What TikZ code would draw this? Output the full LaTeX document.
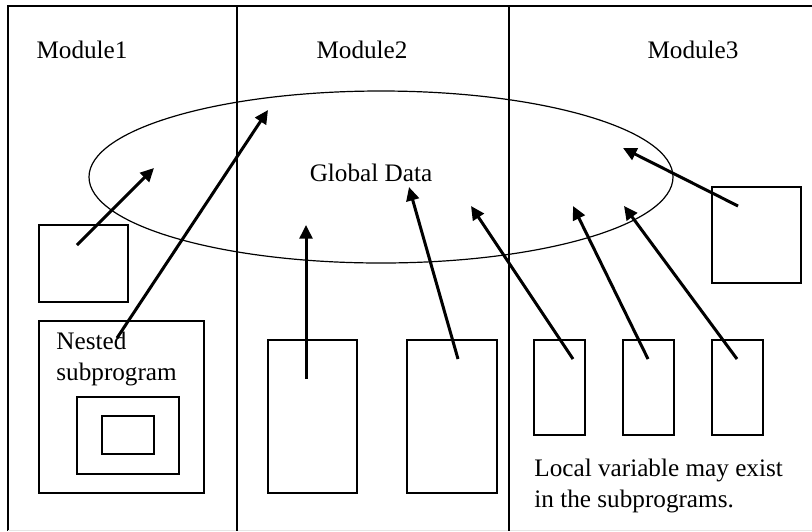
\documentclass[tikz,border=0pt]{standalone}
\usepackage{fontspec}
\setmainfont{Liberation Serif}
\usepackage{tikz}
\usetikzlibrary{shapes.geometric, arrows.meta, positioning, fit}

\tikzset{
  box/.style={draw, line width=0.6pt, inner sep=0pt},
  lbl/.style={inner sep=0pt, font=\fontsize{12.6}{15.5}\selectfont},
  arr/.style={line width=1.5pt, -{Triangle[length=6.8pt,width=6.4pt]}},
}

\begin{document}
\begin{tikzpicture}[x=0.5pt, y=-0.5pt]
\useasboundingbox (0,0) rectangle (812,531);

% frame and module columns
\draw[line width=0.7pt] (812,6) -- (8,6) -- (8,531);
\draw[gray!20] (8,530) -- (812,530);
\draw[line width=0.6pt] (237,6) -- (237,531);
\draw[line width=0.6pt] (509,6) -- (509,531);

\node[lbl] (mod1) at (82,50) {Module1};
\node[lbl] (mod2) at (362,50) {Module2};
\node[lbl] (mod3) at (693,50) {Module3};

% Global data
\node[draw, ellipse, line width=0.6pt, minimum width=292pt, minimum height=86pt] (global) at (381,177) {};
\node[lbl] (gdata) at (371,173) {Global Data};

% Module 1: small box and nested subprogram
\node[box, fit={(39,225) (128,302)}] (sub1) {};
\node[box, fit={(39,321) (204,493)}] (nest1) {};
\node[box, fit={(77,397) (179,474)}] (nest2) {};
\node[box, fit={(102,416) (154,454)}] (nest3) {};
\node[lbl, anchor=west, align=left] (nesttxt) at (56,359) {Nested\\subprogram};

% Module 2: two subprograms
\node[box, fit={(268,340) (357,493)}] (sub2a) {};
\node[box, fit={(407,340) (497,493)}] (sub2b) {};

% Module 3: three subprograms and one more
\foreach \n/\x in {a/534,b/623,c/712} {
  \node[box, fit={(\x,340) (\x+51,435)}] (sub3\n) {};
}
\node[box, fit={(712,187) (801,283)}] (sub3d) {};
\node[lbl, anchor=west, align=left] (localtxt) at (534,486) {Local variable may exist\\in the subprograms.};

% arrow ends
\coordinate (s1) at (77,245);   \coordinate (t1) at (154,168);
\coordinate (s2) at (117,338);  \coordinate (t2) at (268,110);
\coordinate (s3) at (306,379);  \coordinate (t3) at (306,225);
\coordinate (s4) at (458,359);  \coordinate (t4) at (409,187);
\coordinate (s5) at (573,359);  \coordinate (t5) at (471,206);
\coordinate (s6) at (648,359);  \coordinate (t6) at (573,206);
\coordinate (s7) at (737,359);  \coordinate (t7) at (624,206);
\coordinate (s8) at (738,206);  \coordinate (t8) at (623,148);

\foreach \i in {1,...,8} {
  \draw[arr] (s\i) -- (t\i);
}
\end{tikzpicture}
\end{document}
